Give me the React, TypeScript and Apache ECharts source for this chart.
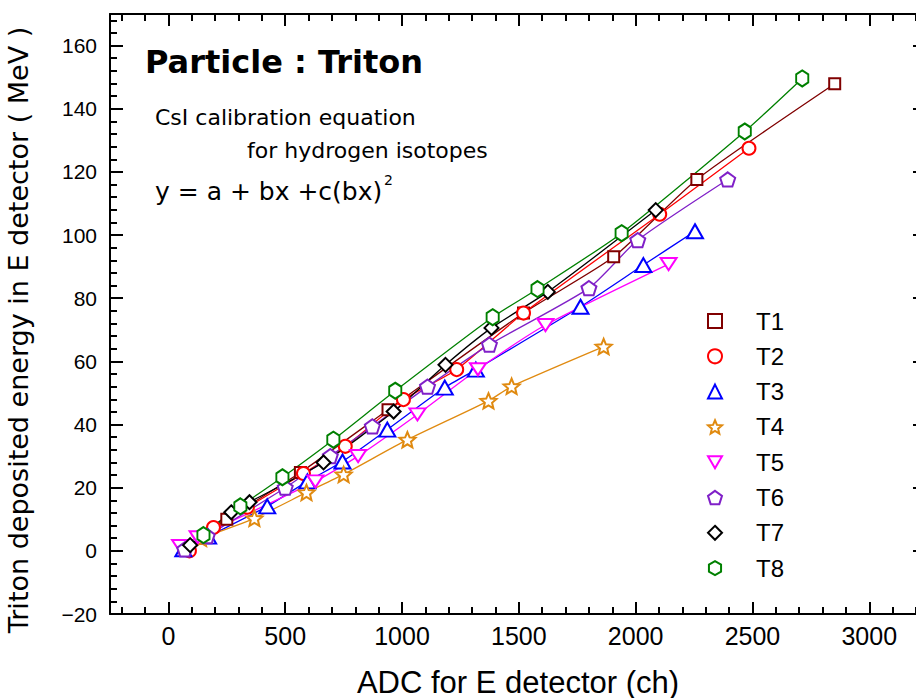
import React, { useEffect, useRef } from "react";
import * as echarts from "echarts";

// ---------- data ----------
const seriesNames = ["T1", "T2", "T3", "T4", "T5", "T6", "T7", "T8"];
const seriesColors = ["#800000", "#ff0000", "#0000ff", "#e08a10", "#ff00ff", "#8020c8", "#000000", "#008000"];

const t1X = [75, 250, 565, 940, 1520, 1906, 2262, 2852];
const t1Y = [0.5, 10.0, 24.8, 44.7, 75.3, 93.1, 117.6, 147.9];
const t2X = [90, 193, 338, 578, 757, 1006, 1234, 1520, 2103, 2485];
const t2Y = [0, 7.4, 13.8, 24.5, 33.1, 47.9, 57.4, 75.3, 106.6, 127.5];
const t3X = [64, 170, 423, 595, 745, 937, 1183, 1316, 1764, 2033, 2254];
const t3Y = [0.5, 4.5, 14.1, 22.0, 28.3, 38.4, 51.7, 57.4, 77.3, 90.5, 101.2];
const t4X = [140, 368, 591, 750, 1023, 1370, 1469, 1863];
const t4Y = [4.0, 10.3, 18.5, 24.2, 35.2, 47.5, 52.1, 64.7];
const t5X = [50, 125, 629, 812, 1066, 1325, 1614, 2141];
const t5Y = [1.5, 4.3, 22.0, 30.0, 43.2, 57.5, 71.5, 90.8];
const t6X = [70, 166, 500, 693, 873, 1109, 1374, 1800, 2009, 2394];
const t6Y = [0.5, 4.7, 20.0, 30.0, 39.4, 52.0, 65.3, 83.2, 98.4, 117.6];
const t7X = [93, 269, 347, 664, 964, 1186, 1383, 1624, 2086];
const t7Y = [1.8, 12.2, 15.4, 28.0, 44.1, 58.9, 70.6, 82.0, 107.9];
const t8X = [150, 308, 488, 706, 971, 1388, 1580, 1940, 2467, 2713];
const t8Y = [5.0, 14.1, 23.3, 35.2, 50.7, 74.0, 82.9, 100.6, 132.8, 149.6];

const allX = [t1X, t2X, t3X, t4X, t5X, t6X, t7X, t8X];
const allY = [t1Y, t2Y, t3Y, t4Y, t5Y, t6Y, t7Y, t8Y];

const xMajorTicks = [0, 500, 1000, 1500, 2000, 2500, 3000];
const yMajorTicks = [-20, 0, 20, 40, 60, 80, 100, 120, 140, 160];

// ---------- styles ----------
const X_MIN = -250;
const X_MAX = 3200;
const Y_MIN = -20;
const Y_MAX = 170;

const xMinorTicks: number[] = [];
for (let v = -200; v <= 3200; v += 100) if (v % 500 !== 0) xMinorTicks.push(v);
const yMinorTicks: number[] = [];
for (let v = -16; v <= 168; v += 4) if (v % 20 !== 0) yMinorTicks.push(v);

const starPath =
  "path://M10,0 L12.65,6.36 L19.51,6.91 L14.28,11.39 L15.88,18.09 L10,14.5 L4.12,18.09 L5.72,11.39 L0.49,6.91 L7.35,6.36 Z";
const downTriPath = "path://M0,0 L20,0 L10,17.3 Z";
const pentaPath = "path://M10,0 L19.51,6.91 L15.88,18.09 L4.12,18.09 L0.49,6.91 Z";
const hexPath = "path://M10,0 L18.66,5 L18.66,15 L10,20 L1.34,15 L1.34,5 Z";

const symbols = ["rect", "circle", "triangle", starPath, downTriPath, pentaPath, "diamond", hexPath];
const symbolSizes: any[] = [[11, 11], 13, [16, 14], 16, [16, 14], 15, 14, [14, 16]];

const black = "#000";
const fmt = (v: number) => (v < 0 ? "\u2212" + Math.abs(v) : String(v));

const SANS = "Liberation Sans, Arial, sans-serif";
const NARROW = "Liberation Sans Narrow, Liberation Sans, sans-serif";
const DEJAVU = "DejaVu Sans, sans-serif";

function axisX(position: string, major: boolean, labels: boolean) {
  return {
    type: "value",
    position,
    min: X_MIN,
    max: X_MAX,
    splitLine: { show: false },
    axisLine: { show: major, onZero: false, lineStyle: { color: black, width: 2 } },
    axisTick: {
      show: true,
      inside: true,
      length: major ? 12 : 7,
      customValues: major ? xMajorTicks : xMinorTicks,
      lineStyle: { color: black, width: 2 },
    },
    axisLabel: labels
      ? {
          show: true,
          customValues: xMajorTicks,
          formatter: fmt,
          margin: 9,
          fontSize: 25,
          fontFamily: NARROW,
          color: black,
        }
      : { show: false },
  };
}

function axisY(position: string, major: boolean, labels: boolean, tickLen?: number) {
  return {
    type: "value",
    position,
    min: Y_MIN,
    max: Y_MAX,
    splitLine: { show: false },
    axisLine: { show: position === "left" && major, onZero: false, lineStyle: { color: black, width: 2 } },
    axisTick: {
      show: true,
      inside: true,
      length: tickLen ?? (major ? 13 : 7),
      customValues: major ? yMajorTicks : yMinorTicks,
      lineStyle: { color: black, width: 2 },
    },
    axisLabel: labels
      ? {
          show: true,
          customValues: yMajorTicks,
          formatter: fmt,
          margin: 13,
          fontSize: 21,
          fontFamily: SANS,
          color: black,
        }
      : { show: false },
  };
}

export default function App() {
  const ref = useRef<HTMLDivElement>(null);

  useEffect(() => {
    if (!ref.current) return;
    const chart = echarts.init(ref.current, null, { renderer: "svg" });

    const lineSeries = seriesNames.map((n, i) => ({
      name: n + " fit",
      type: "line",
      xAxisIndex: 0,
      yAxisIndex: 0,
      data: allX[i].map((x, k) => [x, allY[i][k]]),
      showSymbol: false,
      symbol: "none",
      silent: true,
      smooth: 0.2,
      lineStyle: { color: seriesColors[i], width: 1.3 },
      z: 2,
    }));

    const scatterSeries = seriesNames.map((n, i) => ({
      name: n,
      type: "scatter",
      xAxisIndex: 0,
      yAxisIndex: 0,
      data: allX[i].map((x, k) => [x, allY[i][k]]),
      symbol: symbols[i],
      symbolSize: symbolSizes[i],
      symbolKeepAspect: true,
      itemStyle: { color: "#ffffff", borderColor: seriesColors[i], borderWidth: 2, opacity: 1 },
      z: 3,
    }));

    chart.setOption({
      animation: false,
      backgroundColor: "#ffffff",
      grid: { left: 110, top: 14, width: 806, height: 600, containLabel: false },
      xAxis: [axisX("bottom", true, true), axisX("bottom", false, false), axisX("top", true, false), axisX("top", false, false)],
      yAxis: [axisY("left", true, true), axisY("left", false, false), axisY("right", true, false, 3)],
      legend: {
        data: seriesNames,
        orient: "vertical",
        left: 707,
        top: 309,
        padding: 0,
        itemGap: 11.3,
        itemWidth: 14,
        itemHeight: 14,
        selectedMode: false,
        textStyle: {
          fontSize: 24,
          lineHeight: 22,
          fontFamily: SANS,
          color: black,
          padding: [0, 0, 0, 29],
        },
      },
      graphic: [
        {
          type: "text",
          x: 145,
          y: 62,
          style: {
            text: "Particle : Triton",
            font: `bold 32px ${DEJAVU}`,
            fill: black,
            textAlign: "left",
            textVerticalAlign: "middle",
          },
        },
        {
          type: "text",
          x: 155,
          y: 117,
          style: {
            text: "CsI calibration equation",
            font: `22px ${DEJAVU}`,
            fill: black,
            textAlign: "left",
            textVerticalAlign: "middle",
          },
        },
        {
          type: "text",
          x: 247,
          y: 150,
          style: {
            text: "for hydrogen isotopes",
            font: `22px ${DEJAVU}`,
            fill: black,
            textAlign: "left",
            textVerticalAlign: "middle",
          },
        },
        {
          type: "text",
          x: 155,
          y: 191,
          style: {
            text: "y = a + bx +c(bx)",
            font: `25px ${DEJAVU}`,
            fill: black,
            textAlign: "left",
            textVerticalAlign: "middle",
          },
        },
        {
          type: "text",
          x: 384,
          y: 180,
          style: {
            text: "2",
            font: `14px ${DEJAVU}`,
            fill: black,
            textAlign: "left",
            textVerticalAlign: "middle",
          },
        },
        {
          type: "text",
          x: 18,
          y: 330,
          rotation: Math.PI / 2,
          style: {
            text: "Triton deposited energy in E detector ( MeV )",
            font: `27px ${DEJAVU}`,
            fill: black,
            textAlign: "center",
            textVerticalAlign: "middle",
          },
        },
        {
          type: "text",
          x: 518,
          y: 682,
          style: {
            text: "ADC for E detector (ch)",
            font: `31px ${SANS}`,
            fill: black,
            textAlign: "center",
            textVerticalAlign: "middle",
          },
        },
      ],
      series: [...lineSeries, ...scatterSeries],
    });

    return () => {
      chart.dispose();
    };
  }, []);

  return (
    <div
      ref={ref}
      style={{ position: "fixed", left: 0, top: 0, width: 916, height: 698, background: "#fff" }}
    />
  );
}
